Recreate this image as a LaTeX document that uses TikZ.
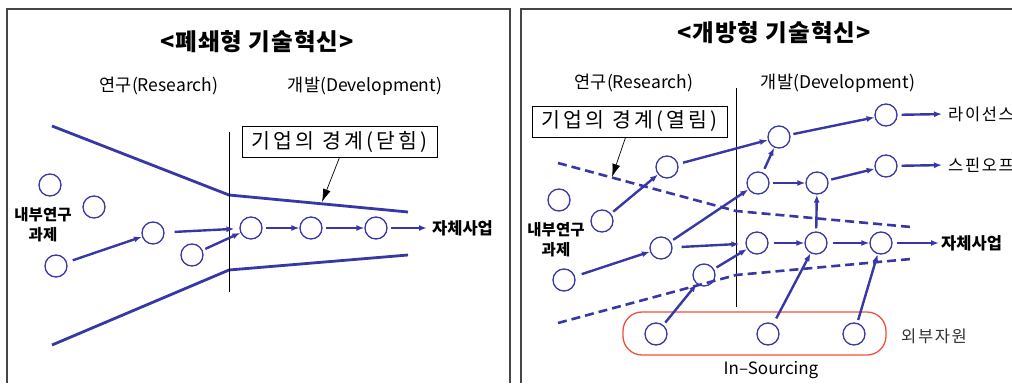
\documentclass[tikz,border=0pt]{standalone}
\usepackage{fontspec}
\setmainfont{Noto Sans CJK KR}
\newfontfamily\spaced[LetterSpace=10]{Noto Sans CJK KR}
\newfontfamily\boxfont[LetterSpace=15]{Noto Sans CJK KR}
\newfontfamily\ttlfont[LetterSpace=4]{Noto Sans CJK KR}
\usetikzlibrary{arrows.meta}
\definecolor{nblue}{RGB}{55,55,165}
\definecolor{nred}{RGB}{240,80,60}
\definecolor{framec}{RGB}{70,70,70}
\begin{document}
\begin{tikzpicture}[x=1pt,y=-1pt,
  circ/.style={circle,draw=nblue,line width=1.3pt,minimum size=22pt,inner sep=0pt},
  conn/.style={nblue,line width=2.4pt,-{Latex[length=8pt,width=6pt]},shorten <=3pt},
  bound/.style={nblue,line width=2.8pt},
  dbound/.style={nblue,line width=2.6pt,dash pattern=on 9pt off 5pt},
  ptr/.style={black,line width=0.7pt,-{Latex[length=13pt,width=8pt]}},
  lbox/.style={draw=black,line width=1pt,minimum width=195pt,minimum height=31pt,inner sep=0pt,font=\fontsize{20.5}{20.5}\selectfont\boxfont},
  ttl/.style={font=\fontsize{23.5}{23.5}\selectfont\ttlfont\bfseries},
  sub/.style={font=\fontsize{17.5}{17.5}\selectfont},
  lbl/.style={font=\fontsize{15.5}{20}\selectfont\bfseries,align=center},
  outtxt/.style={font=\fontsize{16.5}{16.5}\selectfont\bfseries,anchor=west,inner sep=0pt},
  outs/.style={font=\fontsize{16.5}{16.5}\selectfont\spaced,anchor=west,inner sep=0pt},
  divider/.style={black,line width=1pt}
]
\useasboundingbox (0,0) rectangle (1012,383);
% frames
\draw[framec,line width=1.3pt] (7,383) -- (7,9) -- (510,9) -- (510,383);
\draw[framec,line width=1.3pt] (521,383) -- (521,9) -- (1015,9);

% ---------------- left panel ----------------
\node[ttl] (t1) at (257,42) {<폐쇄형 기술혁신>};
\node[sub] (r1) at (159,86) {연구(Research)};
\node[sub] (d1) at (365,86) {개발(Development)};
\node[lbox] (b1) at (339.5,141.5) {기업의 경계(닫힘)};
\coordinate (ua) at (52,126);
\coordinate (ub) at (229,195);
\coordinate (uc) at (408,212);
\coordinate (la) at (52,345);
\coordinate (lb) at (229,270);
\coordinate (lc) at (408,255);
\draw[bound] (ua) -- (ub) -- (uc);
\draw[bound] (la) -- (lb) -- (lc);
\coordinate (v1t) at (229,132);
\coordinate (v1b) at (229,292);
\draw[divider] (v1t) -- (v1b);
\coordinate (p1) at (322,202);
\draw[ptr] (b1.south) -- (p1);

\node[circ] (L1) at (50,185) {};
\node[circ] (L2) at (94,207) {};
\node[circ] (L3) at (56,266) {};
\node[circ] (L4) at (153,233) {};
\node[circ] (L5) at (192,255) {};
\node[circ] (L6) at (251,228) {};
\node[circ] (L7) at (311,228) {};
\node[circ] (L8) at (376,228) {};
\node[lbl] (in1) at (43,225) {내부연구\\과제};
\node[outtxt] (s1) at (432,228) {자체사업};

\draw[conn,shorten <=6pt] (L3) -- (L4);
\draw[conn,shorten <=10pt,shorten >=5pt] (L4) -- (L6);
\draw[conn] (L5) -- (L6);
\draw[conn] (L6) -- (L7);
\draw[conn] (L7) -- (L8);
\draw[conn,shorten >=5pt] (L8) -- (s1.west);

% ---------------- right panel ----------------
\node[ttl] (t2) at (774,33) {<개방형 기술혁신>};
\node[sub] (r2) at (634,83) {연구(Research)};
\node[sub] (d2) at (838,83) {개발(Development)};
\node[lbox] (b2) at (629.5,121.5) {기업의 경계(열림)};
\coordinate (v2t) at (736,88);
\coordinate (v2b) at (736,307);
\draw[divider] (v2t) -- (v2b);
\coordinate (da) at (558,163);
\coordinate (db) at (736,211);
\coordinate (dc) at (911,227);
\coordinate (ea) at (558,323);
\coordinate (eb) at (736,275);
\coordinate (ec) at (911,259);
\draw[dbound] (da) -- (db) -- (dc);
\draw[dbound] (ea) -- (eb) -- (ec);
\coordinate (p2) at (612,177);
\draw[ptr] ([xshift=-4pt]b2.south) -- (p2);

\node[draw=nred,line width=1.3pt,rounded corners=19pt,minimum width=263pt,minimum height=43pt,inner sep=0pt] (ext) at (754.5,333.5) {};

\node[circ] (R1) at (667,167) {};
\node[circ] (R2) at (779,137) {};
\node[circ] (R3) at (886,115) {};
\node[circ] (R4) at (758,183) {};
\node[circ] (R5) at (817,183) {};
\node[circ] (R6) at (886,166) {};
\node[circ] (R7) at (559,200) {};
\node[circ] (R8) at (602,221) {};
\node[circ] (R9) at (564,280) {};
\node[circ] (R10) at (661,248) {};
\node[circ] (R11) at (757,243) {};
\node[circ] (R12) at (816,243) {};
\node[circ] (R13) at (881,243) {};
\node[circ] (R14) at (704,275) {};
\node[circ] (R15) at (656,334) {};
\node[circ] (R16) at (768,334) {};
\node[circ] (R17) at (854,334) {};

\node[lbl] (in2) at (556,240) {내부연구\\과제};
\node[outs] (lic) at (948,114) {라이선스};
\node[outs] (spin) at (948,165) {스핀오프};
\node[outtxt] (s2) at (941,243) {자체사업};
\node[font=\fontsize{16.5}{16.5}\selectfont\spaced,text=black!80] (exl) at (934,336) {외부자원};
\node[font=\fontsize{17}{17}\selectfont] (ins) at (771,370) {In–Sourcing};

\draw[conn,shorten <=7pt] (R9) -- (R10);
\draw[conn] (R10) -- (R4);
\draw[conn] (R8) -- (R1);
\draw[conn,shorten <=5pt] (R1) -- (R2);
\draw[conn,shorten <=4pt] (R4) -- (R2);
\draw[conn] (R2) -- (R3);
\draw[conn,shorten <=4pt,shorten >=6pt] (R3) -- (lic.west);
\draw[conn] (R4) -- (R5);
\draw[conn] (R5) -- (R6);
\draw[conn,shorten <=4pt,shorten >=6pt] (R6) -- (spin.west);
\draw[conn,shorten <=9pt,shorten >=6pt] (R10) -- (R11);
\draw[conn,shorten <=5pt] (R11) -- (R12);
\draw[conn,shorten <=5pt] (R12) -- (R13);
\draw[conn,shorten <=4pt,shorten >=2pt] (R13) -- (s2.west);
\draw[conn] (R12) -- (R5);
\draw[conn] (R14) -- (R11);
\draw[conn] (R15) -- (R14);
\draw[conn,shorten <=6pt] (R16) -- (R12);
\draw[conn] (R17) -- (R13);
\end{tikzpicture}
\end{document}
